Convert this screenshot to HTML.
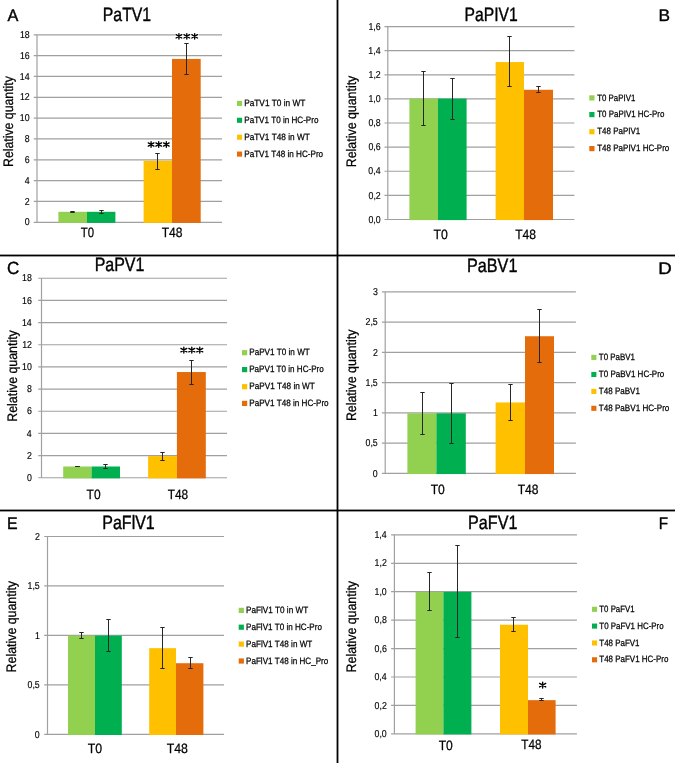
<!DOCTYPE html>
<html><head><meta charset="utf-8"><style>
html,body{margin:0;padding:0;background:#fff;}
svg{display:block;}
text{filter:grayscale(1);}
.lg{stroke:#000;stroke-width:0.25px;}
.tk{stroke:#000;stroke-width:0.15px;}
.tt{stroke:#000;stroke-width:0.4px;}
text{font-family:"Liberation Sans", sans-serif;font-kerning:none;text-rendering:geometricPrecision;}
</style></head><body>
<svg width="675" height="763" viewBox="0 0 675 763">
<rect width="675" height="763" fill="#fff"/>
<path d="M33.7 222.3H222" stroke="#A0A0A0" stroke-width="1.2"/>
<text x="24.75" y="225.44" font-size="10" textLength="4.89" lengthAdjust="spacingAndGlyphs" fill="#000" class="tk">0</text>
<path d="M33.7 201.47H222" stroke="#A0A0A0" stroke-width="1.2"/>
<text x="24.85" y="204.61" font-size="10" textLength="4.89" lengthAdjust="spacingAndGlyphs" fill="#000" class="tk">2</text>
<path d="M33.7 180.63H222" stroke="#A0A0A0" stroke-width="1.2"/>
<text x="24.66" y="183.77" font-size="10" textLength="4.89" lengthAdjust="spacingAndGlyphs" fill="#000" class="tk">4</text>
<path d="M33.7 159.8H222" stroke="#A0A0A0" stroke-width="1.2"/>
<text x="24.79" y="162.94" font-size="10" textLength="4.89" lengthAdjust="spacingAndGlyphs" fill="#000" class="tk">6</text>
<path d="M33.7 138.96H222" stroke="#A0A0A0" stroke-width="1.2"/>
<text x="24.79" y="142.1" font-size="10" textLength="4.89" lengthAdjust="spacingAndGlyphs" fill="#000" class="tk">8</text>
<path d="M33.7 118.13H222" stroke="#A0A0A0" stroke-width="1.2"/>
<text x="19.86" y="121.27" font-size="10" textLength="9.79" lengthAdjust="spacingAndGlyphs" fill="#000" class="tk">10</text>
<path d="M33.7 97.3H222" stroke="#A0A0A0" stroke-width="1.2"/>
<text x="19.95" y="100.44" font-size="10" textLength="9.79" lengthAdjust="spacingAndGlyphs" fill="#000" class="tk">12</text>
<path d="M33.7 76.46H222" stroke="#A0A0A0" stroke-width="1.2"/>
<text x="19.77" y="79.6" font-size="10" textLength="9.79" lengthAdjust="spacingAndGlyphs" fill="#000" class="tk">14</text>
<path d="M33.7 55.63H222" stroke="#A0A0A0" stroke-width="1.2"/>
<text x="19.9" y="58.77" font-size="10" textLength="9.79" lengthAdjust="spacingAndGlyphs" fill="#000" class="tk">16</text>
<path d="M33.7 34.79H222" stroke="#A0A0A0" stroke-width="1.2"/>
<text x="19.89" y="37.93" font-size="10" textLength="9.79" lengthAdjust="spacingAndGlyphs" fill="#000" class="tk">18</text>
<path d="M37 34.79V222.3" stroke="#A0A0A0" stroke-width="1.2"/>
<rect x="58.4" y="211.8" width="28.6" height="11.1" fill="#92D050"/>
<rect x="87" y="211.8" width="28.4" height="11.1" fill="#00B050"/>
<rect x="143.6" y="160.84" width="28.4" height="62.06" fill="#FFC000"/>
<rect x="172" y="58.92" width="28.7" height="163.98" fill="#E46C0A"/>
<path d="M72.5 211.5V212.5M70.3 211.5H74.7M70.3 212.5H74.7" stroke="#262626" stroke-width="1" fill="none"/>
<path d="M101.5 210.5V213.5M99.3 210.5H103.7M99.3 213.5H103.7" stroke="#262626" stroke-width="1" fill="none"/>
<path d="M157.5 153.5V169.5M155.3 153.5H159.7M155.3 169.5H159.7" stroke="#262626" stroke-width="1" fill="none"/>
<path d="M186.5 43.5V74.5M184.3 43.5H188.7M184.3 74.5H188.7" stroke="#262626" stroke-width="1" fill="none"/>
<rect x="147.1" y="140.1" width="23.2" height="8.8" fill="#fff"/>
<path d="M151.08 141.78V147.22M148.28 142.85L153.89 146.15M148.28 146.15L153.89 142.85M158.7 141.78V147.22M155.89 142.85L161.51 146.15M155.89 146.15L161.51 142.85M166.32 141.78V147.22M163.51 142.85L169.13 146.15M163.51 146.15L169.13 142.85" stroke="#000" stroke-width="1.35" stroke-linecap="round" fill="none"/>
<rect x="174.9" y="31.9" width="23.8" height="8.9" fill="#fff"/>
<path d="M178.93 33.57V39.12M176.08 34.67L181.79 38.03M176.08 38.03L181.79 34.67M186.8 33.57V39.12M183.94 34.67L189.66 38.03M183.94 38.03L189.66 34.67M194.67 33.57V39.12M191.81 34.67L197.52 38.03M191.81 38.03L197.52 34.67" stroke="#000" stroke-width="1.35" stroke-linecap="round" fill="none"/>
<text x="80.74" y="237.4" font-size="13.5" textLength="13.3" lengthAdjust="spacingAndGlyphs" fill="#000" class="lg">T0</text>
<text x="161.63" y="237.4" font-size="13.5" textLength="20.8" lengthAdjust="spacingAndGlyphs" fill="#000" class="lg">T48</text>
<text class="lg" transform="translate(13.4,165.9) rotate(-90)" x="-1.01" y="0" font-size="13.8" textLength="90.73" lengthAdjust="spacingAndGlyphs">Relative quantity</text>
<text x="102.8" y="20.6" font-size="19.3" textLength="48.37" lengthAdjust="spacingAndGlyphs" fill="#000" class="tt">PaTV1</text>
<text x="7.57" y="20.6" font-size="16.8" textLength="10.86" lengthAdjust="spacingAndGlyphs" fill="#000" class="tt">A</text>
<rect x="237" y="100.85" width="5.1" height="5.1" fill="#92D050"/>
<text x="244.22" y="106" font-size="9.2" textLength="61.07" lengthAdjust="spacingAndGlyphs" fill="#000" class="lg">PaTV1 T0 in WT</text>
<rect x="237" y="117.75" width="5.1" height="5.1" fill="#00B050"/>
<text x="244.24" y="122.9" font-size="9.2" textLength="74.2" lengthAdjust="spacingAndGlyphs" fill="#000" class="lg">PaTV1 T0 in HC-Pro</text>
<rect x="237" y="134.65" width="5.1" height="5.1" fill="#FFC000"/>
<text x="244.22" y="139.8" font-size="9.2" textLength="65.57" lengthAdjust="spacingAndGlyphs" fill="#000" class="lg">PaTV1 T48 in WT</text>
<rect x="237" y="151.55" width="5.1" height="5.1" fill="#E46C0A"/>
<text x="244.23" y="156.7" font-size="9.2" textLength="78.91" lengthAdjust="spacingAndGlyphs" fill="#000" class="lg">PaTV1 T48 in HC-Pro</text>
<path d="M384.5 219.5H574.4" stroke="#A0A0A0" stroke-width="1.2"/>
<text x="368.41" y="222.64" font-size="10" textLength="12.23" lengthAdjust="spacingAndGlyphs" fill="#000" class="tk">0,0</text>
<path d="M384.5 195.38H574.4" stroke="#A0A0A0" stroke-width="1.2"/>
<text x="368.51" y="198.52" font-size="10" textLength="12.23" lengthAdjust="spacingAndGlyphs" fill="#000" class="tk">0,2</text>
<path d="M384.5 171.26H574.4" stroke="#A0A0A0" stroke-width="1.2"/>
<text x="368.32" y="174.4" font-size="10" textLength="12.23" lengthAdjust="spacingAndGlyphs" fill="#000" class="tk">0,4</text>
<path d="M384.5 147.14H574.4" stroke="#A0A0A0" stroke-width="1.2"/>
<text x="368.45" y="150.28" font-size="10" textLength="12.23" lengthAdjust="spacingAndGlyphs" fill="#000" class="tk">0,6</text>
<path d="M384.5 123.02H574.4" stroke="#A0A0A0" stroke-width="1.2"/>
<text x="368.45" y="126.16" font-size="10" textLength="12.23" lengthAdjust="spacingAndGlyphs" fill="#000" class="tk">0,8</text>
<path d="M384.5 98.9H574.4" stroke="#A0A0A0" stroke-width="1.2"/>
<text x="368.41" y="102.04" font-size="10" textLength="12.23" lengthAdjust="spacingAndGlyphs" fill="#000" class="tk">1,0</text>
<path d="M384.5 74.78H574.4" stroke="#A0A0A0" stroke-width="1.2"/>
<text x="368.51" y="77.92" font-size="10" textLength="12.23" lengthAdjust="spacingAndGlyphs" fill="#000" class="tk">1,2</text>
<path d="M384.5 50.66H574.4" stroke="#A0A0A0" stroke-width="1.2"/>
<text x="368.32" y="53.8" font-size="10" textLength="12.23" lengthAdjust="spacingAndGlyphs" fill="#000" class="tk">1,4</text>
<path d="M384.5 26.54H574.4" stroke="#A0A0A0" stroke-width="1.2"/>
<text x="368.45" y="29.68" font-size="10" textLength="12.23" lengthAdjust="spacingAndGlyphs" fill="#000" class="tk">1,6</text>
<path d="M387.8 26.54V219.5" stroke="#A0A0A0" stroke-width="1.2"/>
<rect x="409.4" y="98.6" width="28.6" height="121.5" fill="#92D050"/>
<rect x="438" y="98.6" width="28.6" height="121.5" fill="#00B050"/>
<rect x="495.6" y="62.06" width="28.4" height="158.04" fill="#FFC000"/>
<rect x="524" y="89.77" width="29" height="130.33" fill="#E46C0A"/>
<path d="M423.5 71.5V125.5M421.3 71.5H425.7M421.3 125.5H425.7" stroke="#262626" stroke-width="1" fill="none"/>
<path d="M452.5 78.5V119.5M450.3 78.5H454.7M450.3 119.5H454.7" stroke="#262626" stroke-width="1" fill="none"/>
<path d="M509.5 36.5V86.5M507.3 36.5H511.7M507.3 86.5H511.7" stroke="#262626" stroke-width="1" fill="none"/>
<path d="M538.5 86.5V92.5M536.3 86.5H540.7M536.3 92.5H540.7" stroke="#262626" stroke-width="1" fill="none"/>
<text x="433.52" y="239" font-size="13.5" textLength="14.36" lengthAdjust="spacingAndGlyphs" fill="#000" class="lg">T0</text>
<text x="515.13" y="238.6" font-size="13.5" textLength="20.8" lengthAdjust="spacingAndGlyphs" fill="#000" class="lg">T48</text>
<text class="lg" transform="translate(356,166.2) rotate(-90)" x="-1.02" y="0" font-size="13.8" textLength="91.54" lengthAdjust="spacingAndGlyphs">Relative quantity</text>
<text x="464.61" y="20.7" font-size="19.3" textLength="53.15" lengthAdjust="spacingAndGlyphs" fill="#000" class="tt">PaPIV1</text>
<text x="658.58" y="20.5" font-size="16.8" textLength="11.53" lengthAdjust="spacingAndGlyphs" fill="#000" class="tt">B</text>
<rect x="589.3" y="95.3" width="5.2" height="5.2" fill="#92D050"/>
<text x="597.22" y="100.5" font-size="9.2" textLength="38.06" lengthAdjust="spacingAndGlyphs" fill="#000" class="lg">T0 PaPIV1</text>
<rect x="589.3" y="112" width="5.2" height="5.2" fill="#00B050"/>
<text x="597.22" y="117.2" font-size="9.2" textLength="67.11" lengthAdjust="spacingAndGlyphs" fill="#000" class="lg">T0 PaPIV1 HC-Pro</text>
<rect x="589.3" y="129.1" width="5.2" height="5.2" fill="#FFC000"/>
<text x="597.22" y="134.3" font-size="9.2" textLength="42.97" lengthAdjust="spacingAndGlyphs" fill="#000" class="lg">T48 PaPIV1</text>
<rect x="589.3" y="146" width="5.2" height="5.2" fill="#E46C0A"/>
<text x="597.22" y="151.2" font-size="9.2" textLength="72.12" lengthAdjust="spacingAndGlyphs" fill="#000" class="lg">T48 PaPIV1 HC-Pro</text>
<path d="M38.2 477.75H227" stroke="#A0A0A0" stroke-width="1.2"/>
<text x="26.95" y="480.89" font-size="10" textLength="4.89" lengthAdjust="spacingAndGlyphs" fill="#000" class="tk">0</text>
<path d="M38.2 455.58H227" stroke="#A0A0A0" stroke-width="1.2"/>
<text x="27.05" y="458.72" font-size="10" textLength="4.89" lengthAdjust="spacingAndGlyphs" fill="#000" class="tk">2</text>
<path d="M38.2 433.42H227" stroke="#A0A0A0" stroke-width="1.2"/>
<text x="26.86" y="436.56" font-size="10" textLength="4.89" lengthAdjust="spacingAndGlyphs" fill="#000" class="tk">4</text>
<path d="M38.2 411.25H227" stroke="#A0A0A0" stroke-width="1.2"/>
<text x="26.99" y="414.39" font-size="10" textLength="4.89" lengthAdjust="spacingAndGlyphs" fill="#000" class="tk">6</text>
<path d="M38.2 389.09H227" stroke="#A0A0A0" stroke-width="1.2"/>
<text x="26.99" y="392.23" font-size="10" textLength="4.89" lengthAdjust="spacingAndGlyphs" fill="#000" class="tk">8</text>
<path d="M38.2 366.92H227" stroke="#A0A0A0" stroke-width="1.2"/>
<text x="22.06" y="370.06" font-size="10" textLength="9.79" lengthAdjust="spacingAndGlyphs" fill="#000" class="tk">10</text>
<path d="M38.2 344.75H227" stroke="#A0A0A0" stroke-width="1.2"/>
<text x="22.15" y="347.89" font-size="10" textLength="9.79" lengthAdjust="spacingAndGlyphs" fill="#000" class="tk">12</text>
<path d="M38.2 322.59H227" stroke="#A0A0A0" stroke-width="1.2"/>
<text x="21.97" y="325.73" font-size="10" textLength="9.79" lengthAdjust="spacingAndGlyphs" fill="#000" class="tk">14</text>
<path d="M38.2 300.42H227" stroke="#A0A0A0" stroke-width="1.2"/>
<text x="22.1" y="303.56" font-size="10" textLength="9.79" lengthAdjust="spacingAndGlyphs" fill="#000" class="tk">16</text>
<path d="M38.2 278.26H227" stroke="#A0A0A0" stroke-width="1.2"/>
<text x="22.09" y="281.4" font-size="10" textLength="9.79" lengthAdjust="spacingAndGlyphs" fill="#000" class="tk">18</text>
<path d="M41.5 278.26V477.75" stroke="#A0A0A0" stroke-width="1.2"/>
<rect x="63.2" y="466.5" width="28.4" height="11.85" fill="#92D050"/>
<rect x="91.6" y="466.5" width="28.4" height="11.85" fill="#00B050"/>
<rect x="148.1" y="456.07" width="28.8" height="22.28" fill="#FFC000"/>
<rect x="176.9" y="372.04" width="28.9" height="106.31" fill="#E46C0A"/>
<path d="M77.5 466.5V466.5M75.3 466.5H79.7M75.3 466.5H79.7" stroke="#262626" stroke-width="1" fill="none"/>
<path d="M105.5 464.5V468.5M103.3 464.5H107.7M103.3 468.5H107.7" stroke="#262626" stroke-width="1" fill="none"/>
<path d="M162.5 452.5V460.5M160.3 452.5H164.7M160.3 460.5H164.7" stroke="#262626" stroke-width="1" fill="none"/>
<path d="M191.5 360.5V384.5M189.3 360.5H193.7M189.3 384.5H193.7" stroke="#262626" stroke-width="1" fill="none"/>
<rect x="179.7" y="345.6" width="24.2" height="9.1" fill="#fff"/>
<path d="M183.84 347.27V353.02M180.88 348.41L186.8 351.89M180.88 351.89L186.8 348.41M191.8 347.27V353.02M188.84 348.41L194.76 351.89M188.84 351.89L194.76 348.41M199.76 347.27V353.02M196.8 348.41L202.72 351.89M196.8 351.89L202.72 348.41" stroke="#000" stroke-width="1.35" stroke-linecap="round" fill="none"/>
<text x="86.58" y="498.5" font-size="13.5" textLength="14.04" lengthAdjust="spacingAndGlyphs" fill="#000" class="lg">T0</text>
<text x="167.73" y="498.5" font-size="13.5" textLength="20.38" lengthAdjust="spacingAndGlyphs" fill="#000" class="lg">T48</text>
<text class="lg" transform="translate(16.5,420.7) rotate(-90)" x="-1.02" y="0" font-size="13.8" textLength="91.54" lengthAdjust="spacingAndGlyphs">Relative quantity</text>
<text x="94.69" y="271.4" font-size="19.3" textLength="49.69" lengthAdjust="spacingAndGlyphs" fill="#000" class="tt">PaPV1</text>
<text x="6.93" y="273.6" font-size="17.6" textLength="12.32" lengthAdjust="spacingAndGlyphs" fill="#000" class="tt">C</text>
<rect x="242" y="350.1" width="5.2" height="5.2" fill="#92D050"/>
<text x="249.23" y="355.3" font-size="9.2" textLength="60.55" lengthAdjust="spacingAndGlyphs" fill="#000" class="lg">PaPV1 T0 in WT</text>
<rect x="242" y="367" width="5.2" height="5.2" fill="#00B050"/>
<text x="249.24" y="372.2" font-size="9.2" textLength="74.5" lengthAdjust="spacingAndGlyphs" fill="#000" class="lg">PaPV1 T0 in HC-Pro</text>
<rect x="242" y="384.1" width="5.2" height="5.2" fill="#FFC000"/>
<text x="249.23" y="389.3" font-size="9.2" textLength="65.66" lengthAdjust="spacingAndGlyphs" fill="#000" class="lg">PaPV1 T48 in WT</text>
<rect x="242" y="400.8" width="5.2" height="5.2" fill="#E46C0A"/>
<text x="249.23" y="406" font-size="9.2" textLength="79.41" lengthAdjust="spacingAndGlyphs" fill="#000" class="lg">PaPV1 T48 in HC-Pro</text>
<path d="M381.9 473.45H575.9" stroke="#A0A0A0" stroke-width="1.2"/>
<text x="372.85" y="476.59" font-size="10" textLength="4.89" lengthAdjust="spacingAndGlyphs" fill="#000" class="tk">0</text>
<path d="M381.9 443.2H575.9" stroke="#A0A0A0" stroke-width="1.2"/>
<text x="365.54" y="446.34" font-size="10" textLength="12.23" lengthAdjust="spacingAndGlyphs" fill="#000" class="tk">0,5</text>
<path d="M381.9 412.95H575.9" stroke="#A0A0A0" stroke-width="1.2"/>
<text x="372.94" y="416.09" font-size="10" textLength="4.89" lengthAdjust="spacingAndGlyphs" fill="#000" class="tk">1</text>
<path d="M381.9 382.7H575.9" stroke="#A0A0A0" stroke-width="1.2"/>
<text x="365.54" y="385.84" font-size="10" textLength="12.23" lengthAdjust="spacingAndGlyphs" fill="#000" class="tk">1,5</text>
<path d="M381.9 352.45H575.9" stroke="#A0A0A0" stroke-width="1.2"/>
<text x="372.95" y="355.59" font-size="10" textLength="4.89" lengthAdjust="spacingAndGlyphs" fill="#000" class="tk">2</text>
<path d="M381.9 322.2H575.9" stroke="#A0A0A0" stroke-width="1.2"/>
<text x="365.54" y="325.34" font-size="10" textLength="12.23" lengthAdjust="spacingAndGlyphs" fill="#000" class="tk">2,5</text>
<path d="M381.9 291.95H575.9" stroke="#A0A0A0" stroke-width="1.2"/>
<text x="372.89" y="295.09" font-size="10" textLength="4.89" lengthAdjust="spacingAndGlyphs" fill="#000" class="tk">3</text>
<path d="M385.2 291.95V473.45" stroke="#A0A0A0" stroke-width="1.2"/>
<rect x="407.4" y="413.3" width="29" height="60.75" fill="#92D050"/>
<rect x="436.4" y="413.3" width="29.4" height="60.75" fill="#00B050"/>
<rect x="495.6" y="402.46" width="29.4" height="71.59" fill="#FFC000"/>
<rect x="525" y="336.24" width="29" height="137.81" fill="#E46C0A"/>
<path d="M422.5 392.5V434.5M420.3 392.5H424.7M420.3 434.5H424.7" stroke="#262626" stroke-width="1" fill="none"/>
<path d="M451.5 383.5V443.5M449.3 383.5H453.7M449.3 443.5H453.7" stroke="#262626" stroke-width="1" fill="none"/>
<path d="M510.5 384.5V420.5M508.3 384.5H512.7M508.3 420.5H512.7" stroke="#262626" stroke-width="1" fill="none"/>
<path d="M539.5 309.5V362.5M537.3 309.5H541.7M537.3 362.5H541.7" stroke="#262626" stroke-width="1" fill="none"/>
<text x="430.73" y="494" font-size="13.5" textLength="14.15" lengthAdjust="spacingAndGlyphs" fill="#000" class="lg">T0</text>
<text x="517.73" y="494.2" font-size="13.5" textLength="20.8" lengthAdjust="spacingAndGlyphs" fill="#000" class="lg">T48</text>
<text class="lg" transform="translate(355.8,420.1) rotate(-90)" x="-1.01" y="0" font-size="13.8" textLength="91.44" lengthAdjust="spacingAndGlyphs">Relative quantity</text>
<text x="467.07" y="271.6" font-size="19.3" textLength="50.31" lengthAdjust="spacingAndGlyphs" fill="#000" class="tt">PaBV1</text>
<text x="658.36" y="273.7" font-size="16.8" textLength="13.53" lengthAdjust="spacingAndGlyphs" fill="#000" class="tt">D</text>
<rect x="591.3" y="354.85" width="5.1" height="5.1" fill="#92D050"/>
<text x="598.82" y="360" font-size="9.2" textLength="36.17" lengthAdjust="spacingAndGlyphs" fill="#000" class="lg">T0 PaBV1</text>
<rect x="591.3" y="371.95" width="5.1" height="5.1" fill="#00B050"/>
<text x="598.82" y="377.1" font-size="9.2" textLength="65.52" lengthAdjust="spacingAndGlyphs" fill="#000" class="lg">T0 PaBV1 HC-Pro</text>
<rect x="591.3" y="388.85" width="5.1" height="5.1" fill="#FFC000"/>
<text x="598.82" y="394" font-size="9.2" textLength="41.07" lengthAdjust="spacingAndGlyphs" fill="#000" class="lg">T48 PaBV1</text>
<rect x="591.3" y="405.75" width="5.1" height="5.1" fill="#E46C0A"/>
<text x="598.82" y="410.9" font-size="9.2" textLength="70.52" lengthAdjust="spacingAndGlyphs" fill="#000" class="lg">T48 PaBV1 HC-Pro</text>
<path d="M44.2 734.4H224" stroke="#A0A0A0" stroke-width="1.2"/>
<text x="34.85" y="737.54" font-size="10" textLength="4.89" lengthAdjust="spacingAndGlyphs" fill="#000" class="tk">0</text>
<path d="M44.2 684.92H224" stroke="#A0A0A0" stroke-width="1.2"/>
<text x="27.54" y="688.07" font-size="10" textLength="12.23" lengthAdjust="spacingAndGlyphs" fill="#000" class="tk">0,5</text>
<path d="M44.2 635.45H224" stroke="#A0A0A0" stroke-width="1.2"/>
<text x="34.94" y="638.59" font-size="10" textLength="4.89" lengthAdjust="spacingAndGlyphs" fill="#000" class="tk">1</text>
<path d="M44.2 585.97H224" stroke="#A0A0A0" stroke-width="1.2"/>
<text x="27.54" y="589.12" font-size="10" textLength="12.23" lengthAdjust="spacingAndGlyphs" fill="#000" class="tk">1,5</text>
<path d="M44.2 536.5H224" stroke="#A0A0A0" stroke-width="1.2"/>
<text x="34.95" y="539.64" font-size="10" textLength="4.89" lengthAdjust="spacingAndGlyphs" fill="#000" class="tk">2</text>
<path d="M47.5 536.5V734.4" stroke="#A0A0A0" stroke-width="1.2"/>
<rect x="68" y="635.6" width="27" height="99.4" fill="#92D050"/>
<rect x="95" y="635.6" width="26.8" height="99.4" fill="#00B050"/>
<rect x="149.2" y="648.17" width="26.8" height="86.83" fill="#FFC000"/>
<rect x="176" y="663.22" width="27.4" height="71.78" fill="#E46C0A"/>
<path d="M81.5 632.5V638.5M79.3 632.5H83.7M79.3 638.5H83.7" stroke="#262626" stroke-width="1" fill="none"/>
<path d="M108.5 619.5V651.5M106.3 619.5H110.7M106.3 651.5H110.7" stroke="#262626" stroke-width="1" fill="none"/>
<path d="M162.5 627.5V668.5M160.3 627.5H164.7M160.3 668.5H164.7" stroke="#262626" stroke-width="1" fill="none"/>
<path d="M190.5 657.5V668.5M188.3 657.5H192.7M188.3 668.5H192.7" stroke="#262626" stroke-width="1" fill="none"/>
<text x="87.72" y="753.4" font-size="13.5" textLength="14.36" lengthAdjust="spacingAndGlyphs" fill="#000" class="lg">T0</text>
<text x="166.72" y="753.4" font-size="13.5" textLength="21.21" lengthAdjust="spacingAndGlyphs" fill="#000" class="lg">T48</text>
<text class="lg" transform="translate(15.7,671.4) rotate(-90)" x="-1.01" y="0" font-size="13.8" textLength="91.44" lengthAdjust="spacingAndGlyphs">Relative quantity</text>
<text x="102.29" y="529" font-size="19.3" textLength="52.49" lengthAdjust="spacingAndGlyphs" fill="#000" class="tt">PaFlV1</text>
<text x="7.1" y="528.7" font-size="16.8" textLength="10.58" lengthAdjust="spacingAndGlyphs" fill="#000" class="tt">E</text>
<rect x="238.7" y="607.8" width="5.2" height="5.2" fill="#92D050"/>
<text x="246.03" y="613" font-size="9.2" textLength="62.16" lengthAdjust="spacingAndGlyphs" fill="#000" class="lg">PaFlV1 T0 in WT</text>
<rect x="238.7" y="624.6" width="5.2" height="5.2" fill="#00B050"/>
<text x="246.04" y="629.8" font-size="9.2" textLength="75.9" lengthAdjust="spacingAndGlyphs" fill="#000" class="lg">PaFlV1 T0 in HC-Pro</text>
<rect x="238.7" y="641.5" width="5.2" height="5.2" fill="#FFC000"/>
<text x="246.03" y="646.7" font-size="9.2" textLength="66.25" lengthAdjust="spacingAndGlyphs" fill="#000" class="lg">PaFlV1 T48 in WT</text>
<rect x="238.7" y="658.4" width="5.2" height="5.2" fill="#E46C0A"/>
<text x="246.04" y="663.6" font-size="9.2" textLength="82.2" lengthAdjust="spacingAndGlyphs" fill="#000" class="lg">PaFlV1 T48 in HC_Pro</text>
<path d="M391.1 733.85H576.9" stroke="#A0A0A0" stroke-width="1.2"/>
<text x="374.51" y="736.99" font-size="10" textLength="12.23" lengthAdjust="spacingAndGlyphs" fill="#000" class="tk">0,0</text>
<path d="M391.1 705.42H576.9" stroke="#A0A0A0" stroke-width="1.2"/>
<text x="374.61" y="708.56" font-size="10" textLength="12.23" lengthAdjust="spacingAndGlyphs" fill="#000" class="tk">0,2</text>
<path d="M391.1 676.99H576.9" stroke="#A0A0A0" stroke-width="1.2"/>
<text x="374.42" y="680.13" font-size="10" textLength="12.23" lengthAdjust="spacingAndGlyphs" fill="#000" class="tk">0,4</text>
<path d="M391.1 648.57H576.9" stroke="#A0A0A0" stroke-width="1.2"/>
<text x="374.55" y="651.71" font-size="10" textLength="12.23" lengthAdjust="spacingAndGlyphs" fill="#000" class="tk">0,6</text>
<path d="M391.1 620.14H576.9" stroke="#A0A0A0" stroke-width="1.2"/>
<text x="374.55" y="623.28" font-size="10" textLength="12.23" lengthAdjust="spacingAndGlyphs" fill="#000" class="tk">0,8</text>
<path d="M391.1 591.71H576.9" stroke="#A0A0A0" stroke-width="1.2"/>
<text x="374.51" y="594.85" font-size="10" textLength="12.23" lengthAdjust="spacingAndGlyphs" fill="#000" class="tk">1,0</text>
<path d="M391.1 563.28H576.9" stroke="#A0A0A0" stroke-width="1.2"/>
<text x="374.61" y="566.42" font-size="10" textLength="12.23" lengthAdjust="spacingAndGlyphs" fill="#000" class="tk">1,2</text>
<path d="M391.1 534.85H576.9" stroke="#A0A0A0" stroke-width="1.2"/>
<text x="374.42" y="537.99" font-size="10" textLength="12.23" lengthAdjust="spacingAndGlyphs" fill="#000" class="tk">1,4</text>
<path d="M394.4 534.85V733.85" stroke="#A0A0A0" stroke-width="1.2"/>
<rect x="415.6" y="591.9" width="27.8" height="142.55" fill="#92D050"/>
<rect x="443.4" y="591.9" width="28" height="142.55" fill="#00B050"/>
<rect x="500" y="624.73" width="28" height="109.72" fill="#FFC000"/>
<rect x="528" y="700.15" width="27.6" height="34.3" fill="#E46C0A"/>
<path d="M429.5 572.5V610.5M427.3 572.5H431.7M427.3 610.5H431.7" stroke="#262626" stroke-width="1" fill="none"/>
<path d="M457.5 545.5V637.5M455.3 545.5H459.7M455.3 637.5H459.7" stroke="#262626" stroke-width="1" fill="none"/>
<path d="M513.5 617.5V631.5M511.3 617.5H515.7M511.3 631.5H515.7" stroke="#262626" stroke-width="1" fill="none"/>
<path d="M541.5 698.5V700.5M539.3 698.5H543.7M539.3 700.5H543.7" stroke="#262626" stroke-width="1" fill="none"/>
<rect x="538.4" y="680.5" width="8" height="9.3" fill="#fff"/>
<path d="M542.64 682.17V688.12M539.57 683.35L545.71 686.95M539.57 686.95L545.71 683.35" stroke="#000" stroke-width="1.35" stroke-linecap="round" fill="none"/>
<text x="438.73" y="749.6" font-size="13.5" textLength="14.15" lengthAdjust="spacingAndGlyphs" fill="#000" class="lg">T0</text>
<text x="521.34" y="749.4" font-size="13.5" textLength="20.17" lengthAdjust="spacingAndGlyphs" fill="#000" class="lg">T48</text>
<text class="lg" transform="translate(356,671.4) rotate(-90)" x="-1.01" y="0" font-size="13.8" textLength="91.44" lengthAdjust="spacingAndGlyphs">Relative quantity</text>
<text x="468.08" y="529" font-size="19.3" textLength="49.31" lengthAdjust="spacingAndGlyphs" fill="#000" class="tt">PaFV1</text>
<text x="658.66" y="528.9" font-size="16.8" textLength="9.25" lengthAdjust="spacingAndGlyphs" fill="#000" class="tt">F</text>
<rect x="592" y="606.75" width="5.1" height="5.1" fill="#92D050"/>
<text x="599.32" y="611.9" font-size="9.2" textLength="35.26" lengthAdjust="spacingAndGlyphs" fill="#000" class="lg">T0 PaFV1</text>
<rect x="592" y="623.55" width="5.1" height="5.1" fill="#00B050"/>
<text x="599.32" y="628.7" font-size="9.2" textLength="64.31" lengthAdjust="spacingAndGlyphs" fill="#000" class="lg">T0 PaFV1 HC-Pro</text>
<rect x="592" y="640.45" width="5.1" height="5.1" fill="#FFC000"/>
<text x="599.32" y="645.6" font-size="9.2" textLength="40.17" lengthAdjust="spacingAndGlyphs" fill="#000" class="lg">T48 PaFV1</text>
<rect x="592" y="657.25" width="5.1" height="5.1" fill="#E46C0A"/>
<text x="599.32" y="662.4" font-size="9.2" textLength="69.01" lengthAdjust="spacingAndGlyphs" fill="#000" class="lg">T48 PaFV1 HC-Pro</text>
<rect x="0" y="254.6" width="675" height="1.8" fill="#000"/><rect x="0" y="509.6" width="675" height="1.8" fill="#000"/><rect x="336.6" y="0" width="1.8" height="763" fill="#000"/>
</svg>
</body></html>
